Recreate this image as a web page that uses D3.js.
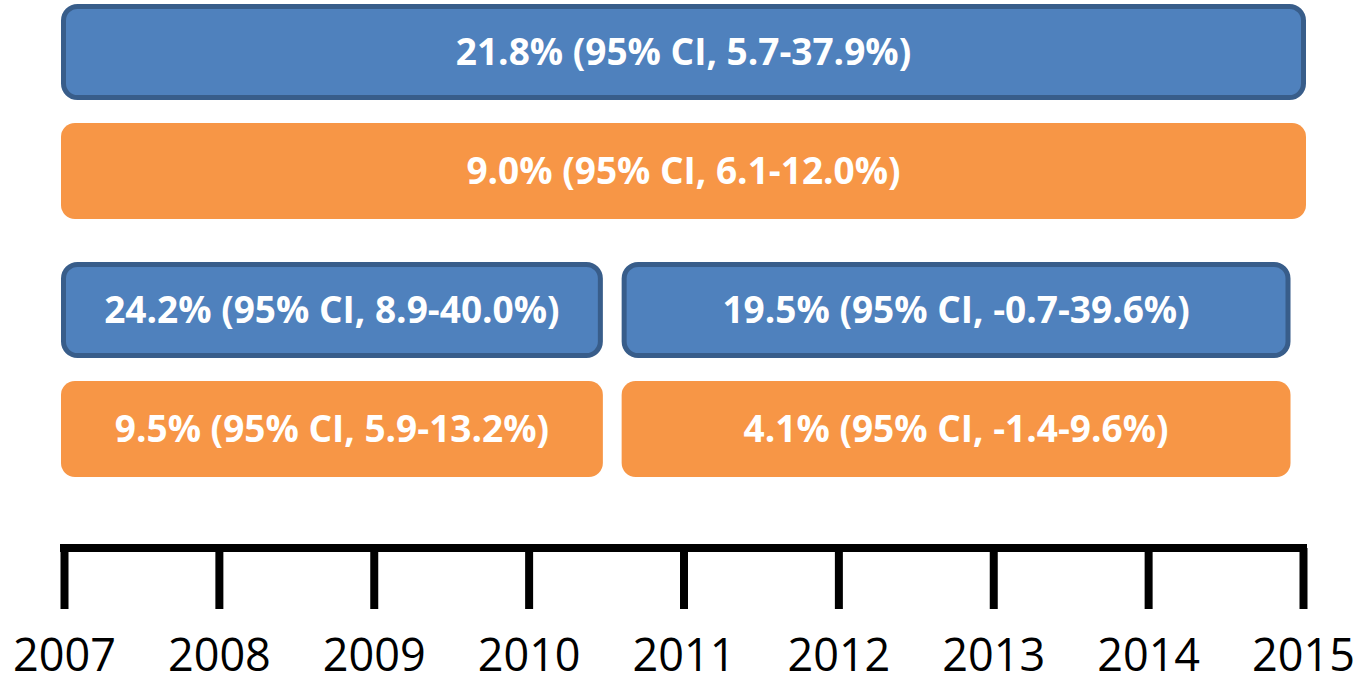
<!DOCTYPE html>
<html>
<head>
<meta charset="utf-8">
<script src="https://cdn.jsdelivr.net/npm/d3@7"></script>
<style>
  body { margin: 0; background: #fff; }
  svg { display: block; }
</style>
</head>
<body>
<script>
// periods (years) and estimates shown in each box
var groups = ['overall', 'split']
var series = ['blue', 'orange']
var starts = [2007, 2007, 2007, 2010.62, 2007, 2010.62]
var ends = [2015, 2015, 2010.46, 2014.9, 2010.46, 2014.9]
var rowGroup = ['overall', 'overall', 'split', 'split', 'split', 'split']
var rowSeries = ['blue', 'orange', 'blue', 'blue', 'orange', 'orange']
var labels = [
  '21.8% (95% CI, 5.7-37.9%)',
  '9.0% (95% CI, 6.1-12.0%)',
  '24.2% (95% CI, 8.9-40.0%)',
  '19.5% (95% CI, -0.7-39.6%)',
  '9.5% (95% CI, 5.9-13.2%)',
  '4.1% (95% CI, -1.4-9.6%)'
]
var tickYears = [2007, 2008, 2009, 2010, 2011, 2012, 2013, 2014, 2015]

var width = 1363, height = 684

var svg = d3.select('body').append('svg')
    .attr('width', width).attr('height', height)

var x = d3.scaleLinear().domain([2007, 2015]).range([64, 1303])

var yGroup = d3.scaleBand().domain(groups).range([4, 477]).paddingInner(0.1667)
var yRow = d3.scaleBand().domain(series).range([0, yGroup.bandwidth()]).paddingInner(0.193)

var fill = {blue: '#4f81bd', orange: '#f79646'}
var stroke = {blue: '#385d8a', orange: 'none'}
var sw = 5, pad = 3

var boxes = labels.map(function(d, i) {
  return {start: starts[i], end: ends[i], g: rowGroup[i], s: rowSeries[i], label: d}
})

var box = svg.append('g').selectAll('g')
    .data(boxes)
    .enter()
    .append('g')

box.append('rect')
    .attr('x', function(d) { return x(d.start) - pad + (d.s == 'blue' ? sw / 2 : 0) })
    .attr('y', function(d) { return yGroup(d.g) + yRow(d.s) + (d.s == 'blue' ? sw / 2 : 0) })
    .attr('width', function(d) { return x(d.end) - x(d.start) + 2 * pad - (d.s == 'blue' ? sw : 0) })
    .attr('height', function(d) { return yRow.bandwidth() - (d.s == 'blue' ? sw : 0) })
    .attr('rx', 14).attr('ry', 14)
    .attr('fill', function(d) { return fill[d.s] })
    .attr('stroke', function(d) { return stroke[d.s] })
    .attr('stroke-width', sw)

box.append('text')
    .text(function(d) { return d.label })
    .attr('x', function(d) { return (x(d.start) + x(d.end)) / 2 })
    .attr('y', function(d) { return yGroup(d.g) + yRow(d.s) + yRow.bandwidth() / 2 + 13 })
    .attr('text-anchor', 'middle')
    .attr('fill', '#fff')
    .attr('font-family', 'Open Sans, sans-serif')
    .attr('font-weight', 'bold')
    .attr('font-size', 37)

// timeline axis
var axisY = 548
var axis = svg.append('g').attr('transform', `translate(0,${axisY})`)
axis.call(d3.axisBottom(x).tickValues(tickYears).tickFormat(d3.format('d')).tickSize(61).tickSizeOuter(0).tickPadding(30))
axis.select('.domain')
    .attr('d', `M${x(2007) - 4},0H${x(2015) + 4}`)
    .attr('stroke', '#000').attr('stroke-width', 8)
axis.selectAll('.tick line').attr('stroke', '#000').attr('stroke-width', 8)
axis.selectAll('.tick text')
    .attr('fill', '#000')
    .attr('font-family', 'Open Sans, sans-serif')
    .attr('font-size', 45)
</script>
</body>
</html>
